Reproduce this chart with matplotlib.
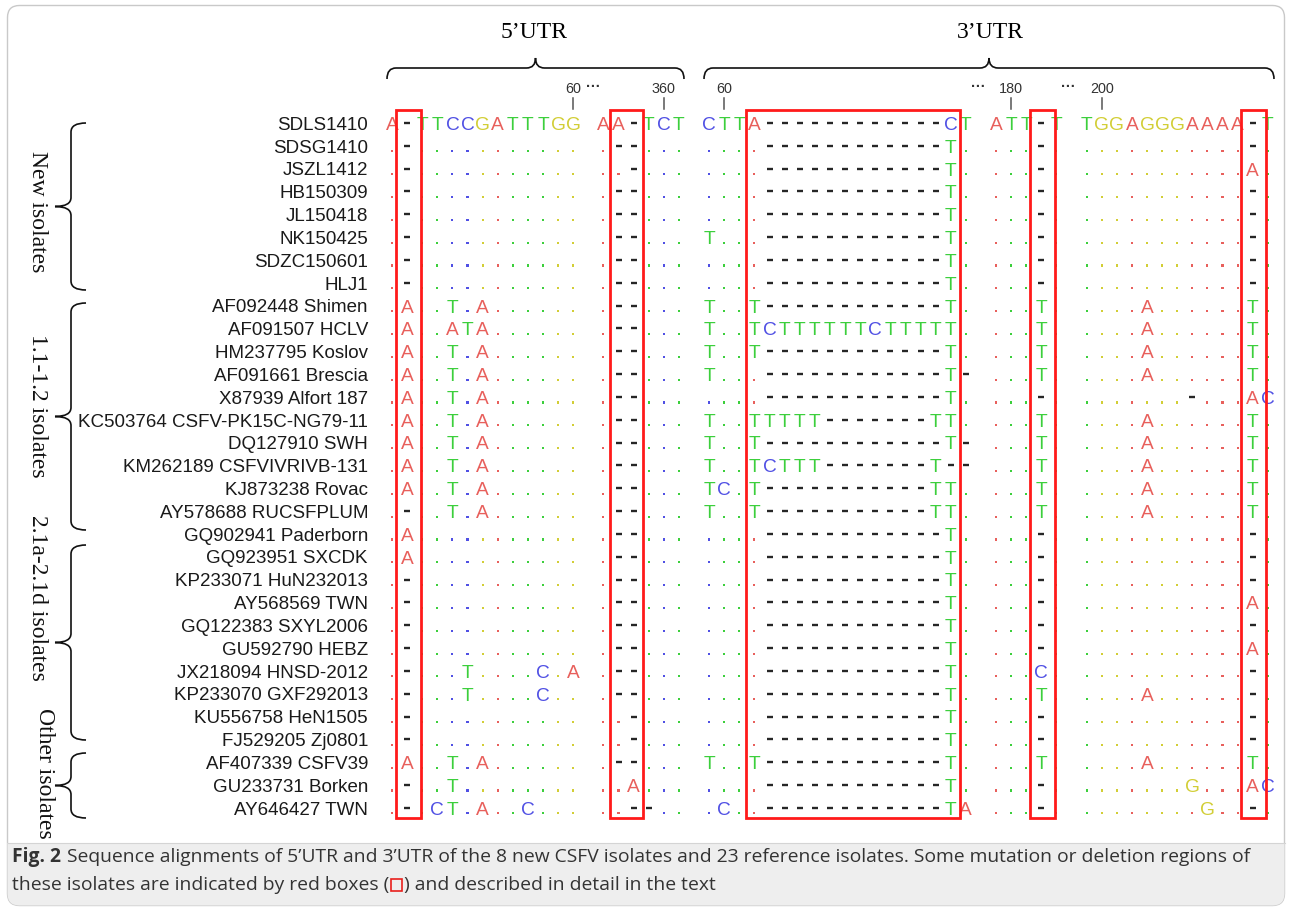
import matplotlib
matplotlib.use("Agg")
import matplotlib.pyplot as plt
from matplotlib.path import Path
from matplotlib.patches import PathPatch, Rectangle, FancyBboxPatch

# ---------------- data ----------------
names = ["SDLS1410", "SDSG1410", "JSZL1412", "HB150309", "JL150418", "NK150425",
         "SDZC150601", "HLJ1", "AF092448 Shimen", "AF091507 HCLV", "HM237795 Koslov",
         "AF091661 Brescia", "X87939 Alfort 187", "KC503764 CSFV-PK15C-NG79-11",
         "DQ127910 SWH", "KM262189 CSFVIVRIVB-131", "KJ873238 Rovac",
         "AY578688 RUCSFPLUM", "GQ902941 Paderborn", "GQ923951 SXCDK",
         "KP233071 HuN232013", "AY568569 TWN", "GQ122383 SXYL2006", "GU592790 HEBZ",
         "JX218094 HNSD-2012", "KP233070 GXF292013", "KU556758 HeN1505",
         "FJ529205 Zj0801", "AF407339 CSFV39", "GU233731 Borken", "AY646427 TWN"]

# reference sequence (first row); ' ' = column break
ref_5utr = "A-TTCCGATTTGG AA-TCT"
ref_3utr = "CTTA------------CT ATT-T TGGAGGGAAAA-T"

# other rows: '.' identical to reference, '-' gap, letter = substitution
rows_5utr = [
    ".-........... .--...",  # SDSG1410
    ".-........... ..-...",  # JSZL1412
    ".-........... .--...",  # HB150309
    ".-........... .--...",  # JL150418
    ".-........... .--...",  # NK150425
    ".-........... .--...",  # SDZC150601
    ".-........... .--...",  # HLJ1
    ".A..T.A...... .--...",  # AF092448
    ".A..ATA...... .--...",  # AF091507
    ".A..T.A...... .--...",  # HM237795
    ".A..T.A...... .--...",  # AF091661
    ".A..T.A...... .--...",  # X87939
    ".A..T.A...... .--...",  # KC503764
    ".A..T.A...... .--...",  # DQ127910
    ".A..T.A...... .--...",  # KM262189
    ".A..T.A...... .--...",  # KJ873238
    ".-..T.A...... .--...",  # AY578688
    ".A........... .--...",  # GQ902941
    ".A........... .--...",  # GQ923951
    ".-........... .--...",  # KP233071
    ".-........... .--...",  # AY568569
    ".-........... .--...",  # GQ122383
    ".-........... .--...",  # GU592790
    ".-...T....C.A .--...",  # JX218094
    ".-...T....C.. .--...",  # KP233070
    ".-........... ..-...",  # KU556758
    ".-........... ..-...",  # FJ529205
    ".A..T.A...... .--...",  # AF407339
    ".-..T........ ..A...",  # GU233731
    ".-.CT.A..C... ..--..",  # AY646427
]

rows_3utr = [
    "....------------T. ...-. ...........-.",  # SDSG1410
    "....------------T. ...-. ...........A.",  # JSZL1412
    "....------------T. ...-. ...........-.",  # HB150309
    "....------------T. ...-. ...........-.",  # JL150418
    "T...------------T. ...-. ...........-.",  # NK150425
    "....------------T. ...-. ...........-.",  # SDZC150601
    "....------------T. ...-. ...........-.",  # HLJ1
    "T..T------------T. ...T. ....A......T.",  # AF092448
    "T..TCTTTTTTCTTTTT. ...T. ....A......T.",  # AF091507
    "T..T------------T. ...T. ....A......T.",  # HM237795
    "T...------------T- ...T. ....A......T.",  # AF091661
    "....------------T. ...-. .......-...AC",  # X87939
    "T..TTTTT-------TT. ...T. ....A......T.",  # KC503764
    "T..T------------T- ...T. ....A......T.",  # DQ127910
    "T..TCTTT-------T-- ...T. ....A......T.",  # KM262189
    "TC.T-----------TT. ...T. ....A......T.",  # KJ873238
    "T..T-----------TT. ...T. ....A......T.",  # AY578688
    "....------------T. ...-. ...........-.",  # GQ902941
    "....------------T. ...-. ...........-.",  # GQ923951
    "....------------T. ...-. ...........-.",  # KP233071
    "....------------T. ...-. ...........A.",  # AY568569
    "....------------T. ...-. ...........-.",  # GQ122383
    "....------------T. ...-. ...........A.",  # GU592790
    "....------------T. ...C. ...........-.",  # JX218094
    "....------------T. ...T. ....A......-.",  # KP233070
    "....------------T. ...-. ...........-.",  # KU556758
    "....------------T. ...-. ...........-.",  # FJ529205
    "T..T------------T. ...T. ....A......T.",  # AF407339
    "....------------T. ...-. .......G...AC",  # GU233731
    ".C..------------TA ...-. ........G..-.",  # AY646427
]

# position ticks: (label, column in region)
ticks_5utr = [("60", 12), ("360", 18)]
ticks_3utr = [("60", 1), ("180", 20), ("200", 26)]

# red boxes: (region, first column, last column)
red_boxes = [("5", 1, 1), ("5", 15, 16), ("3", 3, 16), ("3", 22, 22), ("3", 36, 36)]

# groups: (label, first row, last row)
groups = [("New isolates", 0, 7), ("1.1-1.2 isolates", 8, 17),
          ("2.1a-2.1d isolates", 18, 27), ("Other isolates", 28, 30)]

caption_bold = "Fig. 2"
caption_line1 = ("Sequence alignments of 5\u2019UTR and 3\u2019UTR of the 8 new CSFV isolates "
                 "and 23 reference isolates. Some mutation or deletion regions of")
caption_line2a = "these isolates are indicated by red boxes ("
caption_line2b = ") and described in detail in the text"

# ---------------- layout / style ----------------
W, H = 1292, 908
X0, DX = 392.0, 15.1          # first column centre, column pitch (px)
OFF3 = 21                     # 3'UTR column offset
Y0, DY = 123.0, 22.83         # first row centre, row pitch (px)
NUC = {"A": "#e8605c", "T": "#3ccf3c", "C": "#5050e4", "G": "#d2ce36"}
GAP = "#262626"
SANS = ["Liberation Sans", "DejaVu Sans"]
SERIF = ["Liberation Serif", "DejaVu Serif"]
FS_NUC = 13.8
FS_LAB = 13.5

fig = plt.figure(figsize=(W / 100, H / 100), dpi=100)
ax = fig.add_axes([0, 0, 1, 1])
ax.set_xlim(0, W)
ax.set_ylim(H, 0)
ax.axis("off")

# frame and caption background
frame = FancyBboxPatch((7.5, 5.5), W - 15, H - 8, boxstyle="round,pad=0,rounding_size=12",
                       facecolor="white", edgecolor="#c9c9c9", lw=1.0, zorder=0)
ax.add_patch(frame)
capbg = Rectangle((0, 843), W, H - 843, facecolor="#eeeeee", edgecolor="none", zorder=0.5)
ax.add_patch(capbg)
capbg.set_clip_path(frame)
ax.plot([7.5, W - 7.5], [843, 843], color="#d4d4d4", lw=0.8, zorder=0.6)


def colx(region, c):
    return X0 + DX * (c + (OFF3 if region == "3" else 0))


def rowy(r):
    return Y0 + DY * r


cap_off = 0.716 * FS_NUC * 100 / 72 / 2  # half cap height in px

dot_x, dot_y, dot_c = [], [], []
dash_x, dash_y = [], []


def draw_cell(region, c, r, ch, refch):
    x, y = colx(region, c), rowy(r)
    if ch == " ":
        return
    if ch == ".":
        dot_x.append(x)
        dot_y.append(y + 5.5)
        dot_c.append(NUC.get(refch, GAP))
    elif ch == "-":
        dash_x.append(x)
        dash_y.append(y)
    else:
        ax.text(x, y + cap_off, ch, ha="center", va="baseline", fontsize=FS_NUC,
                family=SANS, color=NUC[ch], zorder=3)


all_rows5 = [ref_5utr] + rows_5utr
all_rows3 = [ref_3utr] + rows_3utr
for r in range(len(names)):
    s5 = all_rows5[r].ljust(len(ref_5utr))[:len(ref_5utr)]
    s3 = all_rows3[r].ljust(len(ref_3utr))[:len(ref_3utr)]
    for c, ch in enumerate(s5):
        draw_cell("5", c, r, ch, ref_5utr[c])
    for c, ch in enumerate(s3):
        draw_cell("3", c, r, ch, ref_3utr[c])
    ax.text(368, rowy(r) + 0.716 * FS_LAB * 100 / 72 / 2, names[r], ha="right",
            va="baseline", fontsize=FS_LAB, family=SANS, color="#1a1a1a")

ax.scatter(dot_x, dot_y, s=2.4, c=dot_c, marker="s", linewidths=0, zorder=2)
ax.hlines(dash_y, [x - 3.0 for x in dash_x], [x + 3.0 for x in dash_x],
          colors=GAP, lw=1.7, zorder=2)

# position ticks
for region, tl in (("5", ticks_5utr), ("3", ticks_3utr)):
    for lab, c in tl:
        x = colx(region, c)
        ax.plot([x, x], [98, 109], color="#555555", lw=1.1)
        ax.text(x, 89, lab, ha="center", va="center", fontsize=10.4, family=SANS,
                color="#333333")
for x in (colx("5", 13.3), colx("3", 17.8), colx("3", 23.8)):
    ax.text(x, 87, "\u00b7\u00b7\u00b7", ha="center", va="center", fontsize=10.5,
            family=SANS, color="#333333", fontweight="bold")

# red boxes
for region, c1, c2 in red_boxes:
    xa, xb = colx(region, c1), colx(region, c2)
    if c1 == c2:
        left, right = xa - 11.5, xb + 13.5
    else:
        left, right = xa - 8.5, xb + 9.5
    ax.add_patch(Rectangle((left, 110), right - left, 818 - 110, fill=False,
                           edgecolor="#ff1a1a", lw=2.0, zorder=4))


# braces
def brace(p1, p2, p_end, p_line, p_tip, r, vertical=False, lw=1.2):
    pm = (p1 + p2) / 2
    pts = [(p1, p_end), (p1, p_line), (p1 + r, p_line), (pm - r, p_line), (pm, p_line),
           (pm, p_tip), (pm, p_line), (pm + r, p_line), (p2 - r, p_line), (p2, p_line),
           (p2, p_end)]
    codes = [Path.MOVETO, Path.CURVE3, Path.CURVE3, Path.LINETO, Path.CURVE3, Path.CURVE3,
             Path.CURVE3, Path.CURVE3, Path.LINETO, Path.CURVE3, Path.CURVE3]
    if vertical:
        pts = [(b, a) for a, b in pts]
    ax.add_patch(PathPatch(Path(pts, codes), fill=False, edgecolor="#111111", lw=lw,
                           zorder=3))


brace(387, 684, 79, 68, 58, 9)
brace(704, 1274, 79, 68, 58, 9)
ax.text(534, 33, "5\u2019UTR", ha="center", va="center", fontsize=17, family=SERIF)
ax.text(990, 33, "3\u2019UTR", ha="center", va="center", fontsize=17, family=SERIF)

brace_spans = [(123, 290), (303, 530), (545, 740), (753, 818)]
label_y = [212, 406, 598, 773]
label_x = [37, 37, 37, 44]
for (lab, r1, r2), (ya, yb), ly, lx in zip(groups, brace_spans, label_y, label_x):
    brace(ya, yb, 86, 71, 55, 9, vertical=True)
    ax.text(lx, ly, lab, ha="center", va="center", rotation=270, fontsize=17,
            family=SERIF, color="#111111")

# caption: choose the size so that the first line ends near x = 1260
CAPF = ["Open Sans", "DejaVu Sans"]
fig.canvas.draw()
rend = fig.canvas.get_renderer()
TARGET_END = 1258
capfs = 14.4
while True:
    tb = ax.text(12, 857, caption_bold, ha="left", va="center", fontsize=capfs,
                 family=CAPF, fontweight="bold", color="#333333")
    wb = tb.get_window_extent(rend).width
    tl = ax.text(12 + wb + 6, 857, caption_line1, ha="left", va="center",
                 fontsize=capfs, family=CAPF, color="#333333")
    end = 12 + wb + 6 + tl.get_window_extent(rend).width
    if end <= TARGET_END or capfs < 11:
        break
    tb.remove()
    tl.remove()
    capfs -= 0.1

t2 = ax.text(12, 885, caption_line2a, ha="left", va="center", fontsize=capfs, family=CAPF,
             color="#333333")
w2 = t2.get_window_extent(rend).width
ax.add_patch(Rectangle((12 + w2 + 1.5, 879), 11, 12, fill=False, edgecolor="#e8201c",
                       lw=1.2, zorder=5))
ax.text(12 + w2 + 15, 885, caption_line2b, ha="left", va="center", fontsize=capfs,
        family=CAPF, color="#333333")

fig.savefig("out.png", dpi=100)
